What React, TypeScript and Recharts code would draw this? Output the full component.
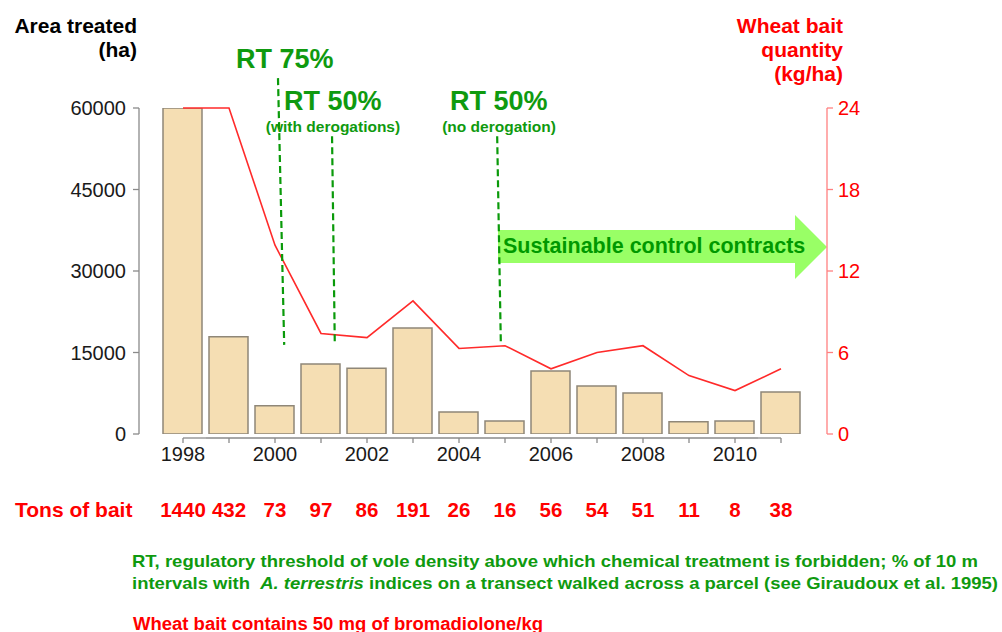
import React from 'react';
import { ComposedChart, Bar, Line, XAxis, YAxis, ReferenceLine } from 'recharts';

const years = [1998, 1999, 2000, 2001, 2002, 2003, 2004, 2005, 2006, 2007, 2008, 2009, 2010, 2011];
const areaTreated = [60000, 17900, 5200, 12900, 12100, 19500, 4050, 2400, 11600, 8850, 7550, 2250, 2400, 7750];
const baitQuantity = [24, 24, 13.9, 7.4, 7.1, 9.8, 6.3, 6.5, 4.8, 6.0, 6.5, 4.3, 3.2, 4.8];
const tonsOfBait = [1440, 432, 73, 97, 86, 191, 26, 16, 56, 54, 51, 11, 8, 38];
const leftTicks = [0, 15000, 30000, 45000, 60000];
const rightTicks = [0, 6, 12, 18, 24];
const yearLabels = [1998, 2000, 2002, 2004, 2006, 2008, 2010];

// regulatory threshold change markers (x in years, y in area units)
const thresholdX1 = [2000.065, 2001.24, 2004.83];
const thresholdX2 = [2000.2, 2001.3, 2004.91];
const thresholdTop = [65500, 54800, 54800];
const thresholdBottom = [16400, 16400, 16400];

const data = years.map((year, i) => ({
  year,
  area: areaTreated[i],
  bait: baitQuantity[i],
  tons: tonsOfBait[i],
}));

const GREEN = '#0f9a0f';
const RED = '#ff0000';
const FONT = '"Liberation Sans", Arial, Helvetica, sans-serif';

const XTick = (props: any) => {
  const { x, y, payload } = props;
  const v = payload.value;
  const i = years.indexOf(v);
  const half = 23;
  const x1 = i === 0 ? x : x - half;
  const x2 = i === years.length - 1 ? x : x + half;
  return (
    <g>
      <line x1={x1} x2={x2} y1={y + 4} y2={y + 4} stroke="#8a8a8a" strokeWidth={1.3} />
      <line x1={x} x2={x} y1={y + 4} y2={y + 9} stroke="#8a8a8a" strokeWidth={1.3} />
      {yearLabels.includes(v) && (
        <text x={x} y={y + 27} textAnchor="middle" fontSize={20} fill="#1a1a1a">
          {v}
        </text>
      )}
      <text x={x} y={y + 83} textAnchor="middle" fontSize={20.5} fontWeight="bold" fill={RED}>
        {tonsOfBait[i]}
      </text>
    </g>
  );
};

export default function App() {
  return (
    <div style={{ position: 'absolute', left: 0, top: 0, width: 1002, height: 632, background: '#fff', fontFamily: FONT }}>
      <svg width={1002} height={632} style={{ position: 'absolute', left: 0, top: 0 }} fontFamily={FONT}>
        <text x={137} y={33} textAnchor="end" fontSize={21} fontWeight="bold" fill="#000">Area treated</text>
        <text x={137} y={57} textAnchor="end" fontSize={21} fontWeight="bold" fill="#000">(ha)</text>
        <text x={843} y={33} textAnchor="end" fontSize={21} fontWeight="bold" fill={RED}>Wheat bait</text>
        <text x={843} y={57} textAnchor="end" fontSize={21} fontWeight="bold" fill={RED}>quantity</text>
        <text x={843} y={81} textAnchor="end" fontSize={21} fontWeight="bold" fill={RED}>(kg/ha)</text>

        <text x={236} y={68} fontSize={27} fontWeight="bold" fill={GREEN}>RT 75%</text>
        <text x={284} y={110} fontSize={27} fontWeight="bold" fill={GREEN}>RT 50%</text>
        <text x={333} y={132} textAnchor="middle" fontSize={15.5} fontWeight="bold" fill={GREEN}>(with derogations)</text>
        <text x={450} y={110} fontSize={27} fontWeight="bold" fill={GREEN}>RT 50%</text>
        <text x={499} y={132} textAnchor="middle" fontSize={15.5} fontWeight="bold" fill={GREEN}>(no derogation)</text>

        <polygon points="498,230 795,230 795,215 827,247 795,279 795,263 498,263" fill="#99ff66" />
        <text x={503} y={253} fontSize={21.5} fontWeight="bold" fill="#009900">Sustainable control contracts</text>

        <text x={15} y={517} fontSize={21} fontWeight="bold" fill={RED}>Tons of bait</text>

        <text x={132} y={567} fontSize={17} fontWeight="bold" fill={GREEN} textLength={846} lengthAdjust="spacingAndGlyphs">
          RT, regulatory threshold of vole density above which chemical treatment is forbidden; % of 10 m
        </text>
        <text x={132} y={589} fontSize={17} fontWeight="bold" fill={GREEN} textLength={866} lengthAdjust="spacingAndGlyphs">
          intervals with{'\u00a0\u00a0'}<tspan fontStyle="italic">A. terrestris</tspan> indices on a transect walked across a parcel (see Giraudoux et al. 1995)
        </text>
        <text x={133} y={630} fontSize={18} fontWeight="bold" fill={RED} textLength={410} lengthAdjust="spacingAndGlyphs">
          Wheat bait contains 50 mg of bromadiolone/kg
        </text>
      </svg>

      <div style={{ position: 'absolute', left: 0, top: 0 }}>
        <ComposedChart width={1002} height={632} data={data} margin={{ top: 108, right: 0, bottom: 168, left: 0 }}>
          <XAxis
            dataKey="year"
            type="number"
            domain={[1998, 2011]}
            ticks={years}
            interval={0}
            padding={{ left: 44, right: 46 }}
            axisLine={false}
            tickLine={false}
            tickSize={0}
            tickMargin={0}
            height={30}
            tick={<XTick />}
          />
          <YAxis
            yAxisId="left"
            domain={[0, 60000]}
            ticks={leftTicks}
            width={139}
            stroke="#8a8a8a"
            axisLine={{ stroke: '#8a8a8a', strokeWidth: 1.3 }}
            tickLine={{ stroke: '#8a8a8a', strokeWidth: 1.3 }}
            tickSize={6}
            tickMargin={7}
            tick={{ fill: '#1a1a1a', fontSize: 20 }}
            allowDataOverflow
          />
          <YAxis
            yAxisId="right"
            orientation="right"
            domain={[0, 24]}
            ticks={rightTicks}
            width={175}
            axisLine={{ stroke: '#ff8080', strokeWidth: 1.3 }}
            tickLine={{ stroke: '#ff8080', strokeWidth: 1.3 }}
            tickSize={6}
            tickMargin={5}
            tick={{ fill: RED, fontSize: 20 }}
          />
          <Bar
            yAxisId="left"
            dataKey="area"
            barSize={39}
            fill="#f5deb3"
            stroke="#8f8778"
            strokeWidth={1.5}
            isAnimationActive={false}
          />
          <Line
            yAxisId="right"
            dataKey="bait"
            type="linear"
            stroke="#ff2a2a"
            strokeWidth={1.6}
            dot={false}
            activeDot={false}
            isAnimationActive={false}
          />
          {thresholdX1.map((x1, i) => (
            <ReferenceLine
              key={i}
              yAxisId="left"
              segment={[
                { x: x1, y: thresholdTop[i] },
                { x: thresholdX2[i], y: thresholdBottom[i] },
              ]}
              stroke="#0a9a0a"
              strokeWidth={2.2}
              strokeDasharray="7 4"
              ifOverflow="visible"
            />
          ))}
        </ComposedChart>
      </div>
    </div>
  );
}
